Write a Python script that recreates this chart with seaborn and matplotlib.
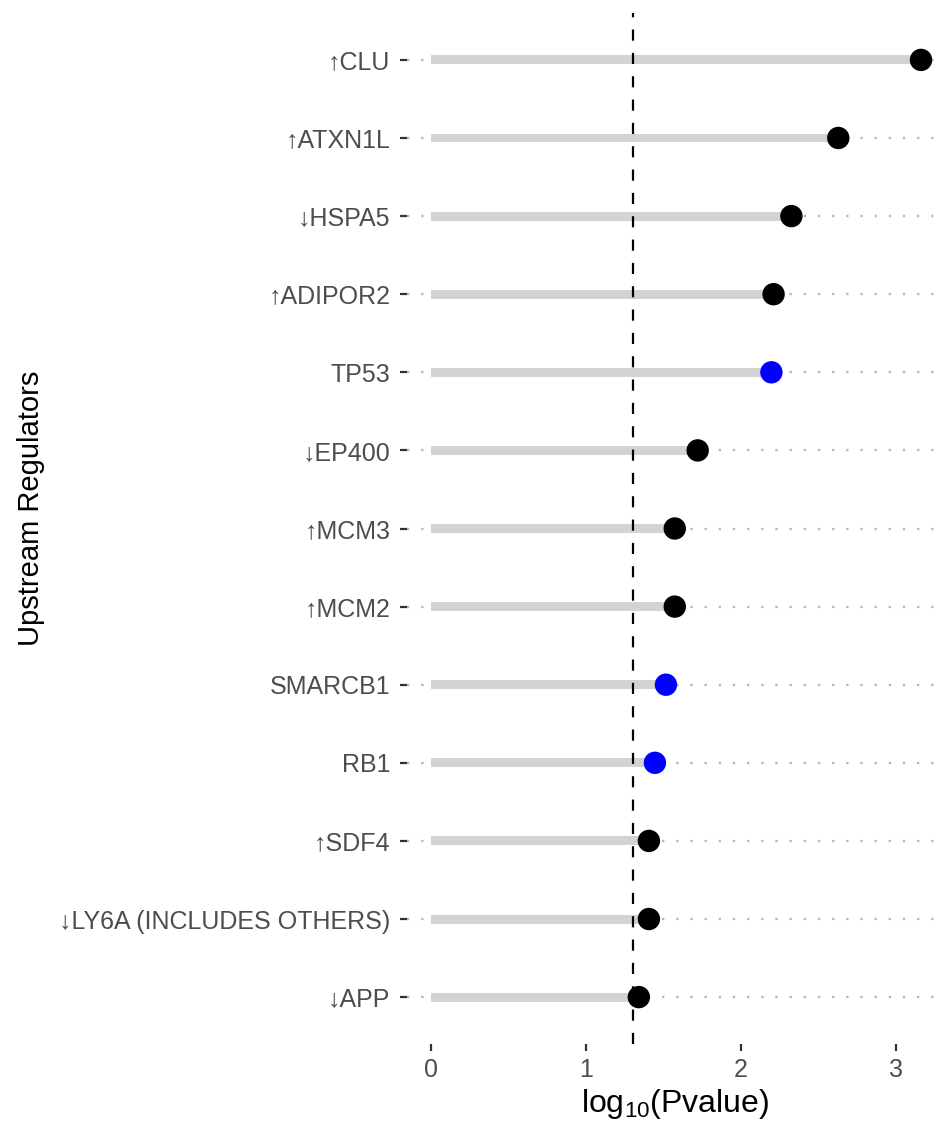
import numpy as np
import pandas as pd
import matplotlib
matplotlib.use('Agg')
import matplotlib.pyplot as plt
import seaborn as sns

# upstream regulators, top to bottom
regulators = ['↑CLU', '↑ATXN1L', '↓HSPA5', '↑ADIPOR2', 'TP53', '↓EP400', '↑MCM3',
              '↑MCM2', 'SMARCB1', 'RB1', '↑SDF4', '↓LY6A (INCLUDES OTHERS)', '↓APP']
log_p = [3.162, 2.628, 2.325, 2.21, 2.196, 1.72, 1.572,
         1.572, 1.515, 1.444, 1.405, 1.405, 1.34]
highlight = ['no', 'no', 'no', 'no', 'yes', 'no', 'no',
             'no', 'yes', 'yes', 'no', 'no', 'no']
cutoff = 1.30

df = pd.DataFrame({'regulator': regulators, 'log_p': log_p, 'highlight': highlight})
df['pos'] = np.arange(len(df))

sns.set_style('white')
plt.rcParams['font.family'] = ['Liberation Sans', 'DejaVu Sans']
plt.rcParams['mathtext.fontset'] = 'custom'
plt.rcParams['mathtext.rm'] = 'Liberation Sans'

fig = plt.figure(figsize=(9.43, 11.24), dpi=100)
ax = fig.add_axes([0.4316, 0.0712, 1 - 0.4316, 0.9884 - 0.0712])

sns.barplot(data=df, x='log_p', y='regulator', orient='h', order=regulators,
            width=0.115, color='#D3D3D3', linewidth=0, saturation=1, ax=ax, zorder=1)
ax.axvline(cutoff, color='black', linewidth=1.6, linestyle=(0, (5, 5.5)), zorder=3)
sns.scatterplot(data=df, x='log_p', y='pos', hue='highlight',
                palette={'no': 'black', 'yes': '#0000FF'}, s=260, linewidth=0,
                legend=False, ax=ax, zorder=4)

ax.set_xlim(-0.157, 3.304)
ax.set_ylim(len(df) - 0.4, -0.6)
ax.set_xticks([0, 1, 2, 3])
ax.set_yticks(df['pos'])
ax.set_yticklabels(regulators)

ax.set_axisbelow(True)
ax.grid(axis='y', color='#B8B8B8', linewidth=1.7, linestyle=(0, (1, 5)))
ax.grid(axis='x', visible=False)
for sp in ax.spines.values():
    sp.set_visible(False)

ax.tick_params(axis='both', bottom=True, left=True, length=5, width=1.6,
               color='#333333', labelcolor='#4D4D4D', labelsize=18)
ax.tick_params(axis='y', pad=7)
ax.tick_params(axis='x', pad=5)

ax.set_xlabel('log$_{10}$(Pvalue)', fontsize=23, color='black', labelpad=4)
ax.set_ylabel('Upstream Regulators', fontsize=21, color='black')
ax.yaxis.set_label_coords(-0.675, 0.52)

fig.savefig('out.png', dpi=100)
